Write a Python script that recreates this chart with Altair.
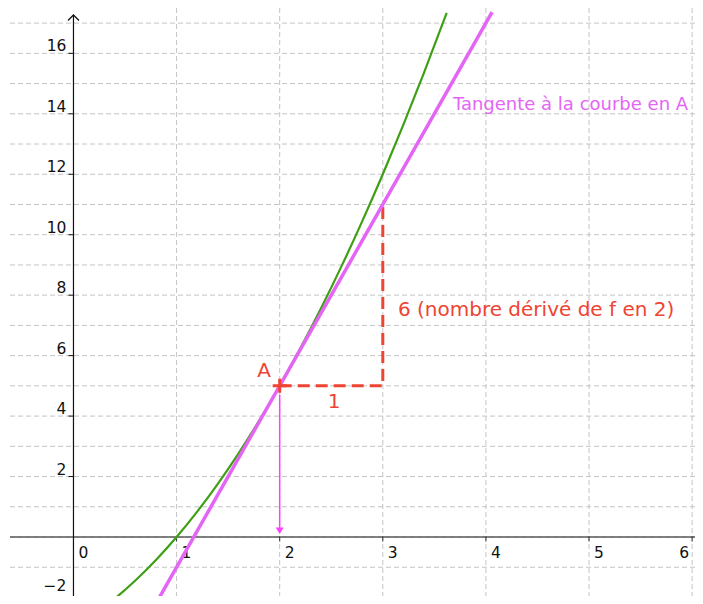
import altair as alt
import pandas as pd

# ---- data ----
curve_x = [0.2, 0.4, 0.6, 0.8, 1.0, 1.2, 1.4, 1.6, 1.8, 2.0, 2.2, 2.4, 2.6, 2.8, 3.0, 3.2, 3.4, 3.62]
curve_y = [-2.56, -2.04, -1.44, -0.76, 0.0, 0.84, 1.76, 2.76, 3.84, 5.0, 6.24, 7.56, 8.96, 10.44, 12.0, 13.64, 15.36, 17.34]

tangent_x = [0.75, 4.06]
tangent_y = [-2.5, 17.36]

step_x = [2, 3, 3]
step_y = [5, 5, 11]

point_A = (2, 5)
arrow_from = 4.7

grid_x = [1, 2, 3, 4, 5, 6]
grid_y = list(range(-2, 18))

xtick_vals = [0, 1, 2, 3, 4, 5]
xtick_labels = ["0", "1", "2", "3", "4", "5"]
xtick_last_val, xtick_last_label = 6, "6"
ytick_vals = [2, 4, 6, 8, 10, 12, 14, 16]
ytick_labels = ["2", "4", "6", "8", "10", "12", "14", "16"]
ytick_low_val, ytick_low_label = -2, "\u22122"

x_min, x_max = -0.635, 6.028
y_min, y_max = -1.952, 17.50
yaxis_top = 17.27
xaxis_left = -0.616

# ---- colours ----
GREEN = "#3f9f14"
MAGENTA = "#e465f5"
ARROW = "#ff40ff"
RED = "#ee4433"
GRID = "#c4c4c4"
FONT = "DejaVu Sans"

xs = alt.Scale(domain=[x_min, x_max], nice=False, zero=False)
ys = alt.Scale(domain=[y_min, y_max], nice=False, zero=False)


def X(f="x", **kw):
    return alt.X(f, type="quantitative", scale=xs, axis=None, **kw)


def Y(f="y", **kw):
    return alt.Y(f, type="quantitative", scale=ys, axis=None, **kw)


curve_df = pd.DataFrame({"x": curve_x, "y": curve_y})
tan_df = pd.DataFrame({"x": tangent_x, "y": tangent_y})
step_df = pd.DataFrame({"x": step_x, "y": step_y, "o": [0, 1, 2]})

vgrid = alt.Chart(pd.DataFrame({"x": grid_x})).mark_rule(
    color=GRID, strokeWidth=1, strokeDash=[5, 3]
).encode(x=X())
hgrid = alt.Chart(pd.DataFrame({"y": grid_y})).mark_rule(
    color=GRID, strokeWidth=1, strokeDash=[5, 3]
).encode(y=Y())

curve = alt.Chart(curve_df).mark_line(
    color=GREEN, strokeWidth=2.2, interpolate="monotone", clip=True
).encode(x=X(), y=Y())

xaxis_line = alt.Chart(pd.DataFrame({"x": [xaxis_left], "x2": [x_max + 0.5], "y": [0]})).mark_rule(
    color="#5a5a5a", strokeWidth=1.6, clip=True
).encode(x=X(), x2="x2:Q", y=Y())

yaxis_line = alt.Chart(pd.DataFrame({"x": [0], "y": [y_min - 0.5], "y2": [yaxis_top]})).mark_rule(
    color="#111111", strokeWidth=1.2, clip=True
).encode(x=X(), y=Y(), y2="y2:Q")

yaxis_arrow = alt.Chart(pd.DataFrame({"x": [0], "y": [yaxis_top]})).mark_point(
    shape="M-1,1L0,0L1,1", filled=False, size=121, color="#111111", strokeWidth=1.2, opacity=1
).encode(x=X(), y=Y())

ytick_df = pd.DataFrame({"x": [0] * len(ytick_vals), "y": ytick_vals, "t": ytick_labels})
ylow_df = pd.DataFrame({"x": [0], "y": [ytick_low_val], "t": [ytick_low_label]})
xtick_df = pd.DataFrame({"x": xtick_vals, "y": [0] * len(xtick_vals), "t": xtick_labels})
xlast_df = pd.DataFrame({"x": [xtick_last_val], "y": [0], "t": [xtick_last_label]})

yticks = alt.Chart(pd.DataFrame({"x": [0] * (len(ytick_vals) + 1),
                                 "y": ytick_vals + [ytick_low_val]})).mark_tick(
    orient="horizontal", size=5, thickness=1, color="#111111", xOffset=-2.5, opacity=1
).encode(x=X(), y=Y())

xticks = alt.Chart(pd.DataFrame({"x": grid_x, "y": [0] * len(grid_x)})).mark_tick(
    orient="vertical", size=5, thickness=1, color="#333333", yOffset=2, opacity=1
).encode(x=X(), y=Y())

ylabels = alt.Chart(ytick_df).mark_text(
    align="right", baseline="alphabetic", dx=-7, dy=-2, font=FONT, fontSize=15.5, color="#111111"
).encode(x=X(), y=Y(), text="t:N")

ylabel_low = alt.Chart(ylow_df).mark_text(
    align="right", baseline="alphabetic", dx=-7, dy=-6, font=FONT, fontSize=15.5, color="#111111"
).encode(x=X(), y=Y(), text="t:N")

xlabels = alt.Chart(xtick_df).mark_text(
    align="left", baseline="alphabetic", dx=5, dy=21, font=FONT, fontSize=15.5, color="#111111"
).encode(x=X(), y=Y(), text="t:N")

xlabel_last = alt.Chart(xlast_df).mark_text(
    align="right", baseline="alphabetic", dx=-3, dy=21, font=FONT, fontSize=15.5, color="#111111"
).encode(x=X(), y=Y(), text="t:N")

tangent = alt.Chart(tan_df).mark_line(color=MAGENTA, strokeWidth=3.5, clip=True).encode(x=X(), y=Y())

step = alt.Chart(step_df).mark_line(
    color=RED, strokeWidth=3, strokeDash=[12, 6]
).encode(x=X(), y=Y(), order="o:Q")

arrow_line = alt.Chart(pd.DataFrame({"x": [point_A[0]], "y": [arrow_from], "y2": [0]})).mark_rule(
    color=ARROW, strokeWidth=1.5, y2Offset=-7
).encode(x=X(), y=Y(), y2="y2:Q")

arrow_head = alt.Chart(pd.DataFrame({"x": [point_A[0]], "y": [0]})).mark_point(
    shape="M-1,-1.6L1,-1.6L0,0Z", filled=True, size=64, color=ARROW, yOffset=-3, opacity=1
).encode(x=X(), y=Y())

cross = alt.Chart(pd.DataFrame({"x": [point_A[0]], "y": [point_A[1]]})).mark_point(
    shape="M-1,0L1,0M0,-1L0,1", filled=False, size=196, color=RED, strokeWidth=3, opacity=1
).encode(x=X(), y=Y())

ann_df = pd.DataFrame({
    "x": [1.848, 2.527, 3.147],
    "y": [5.29, 4.27, 7.31],
    "t": ["A", "1", "6 (nombre dérivé de f en 2)"],
})
ann_center = alt.Chart(ann_df.iloc[:2]).mark_text(
    align="center", baseline="alphabetic", font=FONT, fontSize=20, color=RED
).encode(x=X(), y=Y(), text="t:N")
ann_left = alt.Chart(ann_df.iloc[2:]).mark_text(
    align="left", baseline="alphabetic", font=FONT, fontSize=20, color=RED
).encode(x=X(), y=Y(), text="t:N")

tan_label = alt.Chart(pd.DataFrame({"x": [3.68], "y": [14.12], "t": ["Tangente à la courbe en A"]})).mark_text(
    align="left", baseline="alphabetic", font=FONT, fontSize=18, color=MAGENTA
).encode(x=X(), y=Y(), text="t:N")

chart = alt.layer(
    vgrid, hgrid, xaxis_line, yaxis_line, yaxis_arrow, yticks, xticks, ylabels, ylabel_low,
    xlabels, xlabel_last,
    step, arrow_line, arrow_head, curve, tangent, cross,
    ann_center, ann_left, tan_label,
).properties(
    width=687, height=588, padding=0, autosize=alt.AutoSizeParams(type="none"), background="white"
).configure_view(stroke=None)

chart.save("out.html", embed_options={"renderer": "svg", "actions": False})
